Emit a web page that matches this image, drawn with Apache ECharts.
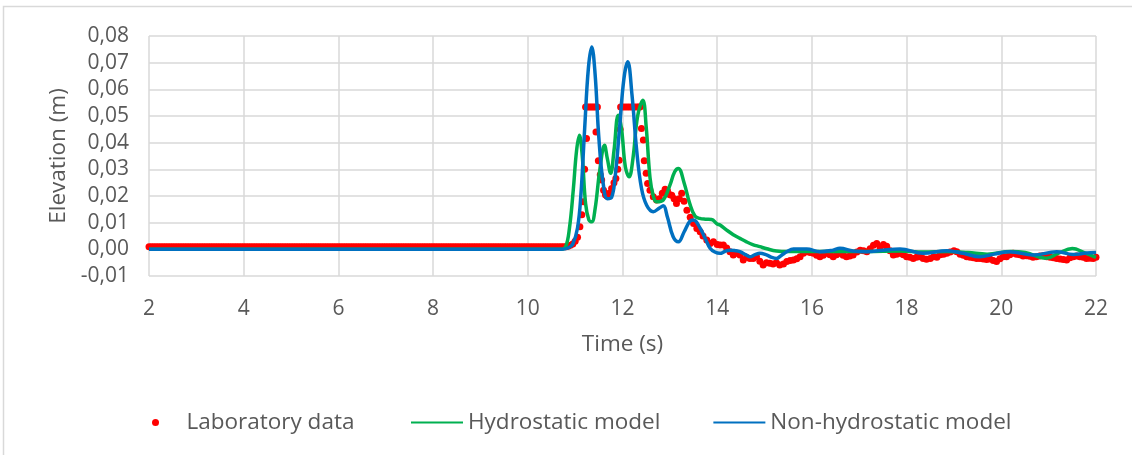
<!DOCTYPE html>
<html>
<head>
<meta charset="utf-8">
<script src="https://cdn.jsdelivr.net/npm/echarts@6/dist/echarts.min.js"></script>
<style>
  html, body { margin: 0; padding: 0; background: #ffffff; }
  #chart { width: 1132px; height: 455px; }
</style>
</head>
<body>
<div id="chart"></div>
<script>
// ---- Data ----
const seriesNames = ['Laboratory data', 'Hydrostatic model', 'Non-hydrostatic model'];
const xTicks = { min: 2, max: 22, interval: 2 };
const yTicks = { min: -0.01, max: 0.08, interval: 0.01 };

// Laboratory data: [time (s), elevation (m)]
const labPoints = [
  [2.0,0.001],[2.05,0.001],[2.1,0.001],[2.15,0.001],[2.2,0.001],[2.25,0.001],[2.3,0.001],[2.35,0.001],[2.4,0.001],[2.45,0.001],
  [2.5,0.001],[2.55,0.001],[2.6,0.001],[2.65,0.001],[2.7,0.001],[2.75,0.001],[2.8,0.001],[2.85,0.001],[2.9,0.001],[2.95,0.001],
  [3.0,0.001],[3.05,0.001],[3.1,0.001],[3.15,0.001],[3.2,0.001],[3.25,0.001],[3.3,0.001],[3.35,0.001],[3.4,0.001],[3.45,0.001],
  [3.5,0.001],[3.55,0.001],[3.6,0.001],[3.65,0.001],[3.7,0.001],[3.75,0.001],[3.8,0.001],[3.85,0.001],[3.9,0.001],[3.95,0.001],
  [4.0,0.001],[4.05,0.001],[4.1,0.001],[4.15,0.001],[4.2,0.001],[4.25,0.001],[4.3,0.001],[4.35,0.001],[4.4,0.001],[4.45,0.001],
  [4.5,0.001],[4.55,0.001],[4.6,0.001],[4.65,0.001],[4.7,0.001],[4.75,0.001],[4.8,0.001],[4.85,0.001],[4.9,0.001],[4.95,0.001],
  [5.0,0.001],[5.05,0.001],[5.1,0.001],[5.15,0.001],[5.2,0.001],[5.25,0.001],[5.3,0.001],[5.35,0.001],[5.4,0.001],[5.45,0.001],
  [5.5,0.001],[5.55,0.001],[5.6,0.001],[5.65,0.001],[5.7,0.001],[5.75,0.001],[5.8,0.001],[5.85,0.001],[5.9,0.001],[5.95,0.001],
  [6.0,0.001],[6.05,0.001],[6.1,0.001],[6.15,0.001],[6.2,0.001],[6.25,0.001],[6.3,0.001],[6.35,0.001],[6.4,0.001],[6.45,0.001],
  [6.5,0.001],[6.55,0.001],[6.6,0.001],[6.65,0.001],[6.7,0.001],[6.75,0.001],[6.8,0.001],[6.85,0.001],[6.9,0.001],[6.95,0.001],
  [7.0,0.001],[7.05,0.001],[7.1,0.001],[7.15,0.001],[7.2,0.001],[7.25,0.001],[7.3,0.001],[7.35,0.001],[7.4,0.001],[7.45,0.001],
  [7.5,0.001],[7.55,0.001],[7.6,0.001],[7.65,0.001],[7.7,0.001],[7.75,0.001],[7.8,0.001],[7.85,0.001],[7.9,0.001],[7.95,0.001],
  [8.0,0.001],[8.05,0.001],[8.1,0.001],[8.15,0.001],[8.2,0.001],[8.25,0.001],[8.3,0.001],[8.35,0.001],[8.4,0.001],[8.45,0.001],
  [8.5,0.001],[8.55,0.001],[8.6,0.001],[8.65,0.001],[8.7,0.001],[8.75,0.001],[8.8,0.001],[8.85,0.001],[8.9,0.001],[8.95,0.001],
  [9.0,0.001],[9.05,0.001],[9.1,0.001],[9.15,0.001],[9.2,0.001],[9.25,0.001],[9.3,0.001],[9.35,0.001],[9.4,0.001],[9.45,0.001],
  [9.5,0.001],[9.55,0.001],[9.6,0.001],[9.65,0.001],[9.7,0.001],[9.75,0.001],[9.8,0.001],[9.85,0.001],[9.9,0.001],[9.95,0.001],
  [10.0,0.001],[10.05,0.001],[10.1,0.001],[10.15,0.001],[10.2,0.001],[10.25,0.001],[10.3,0.001],[10.35,0.001],[10.4,0.001],[10.45,0.001],
  [10.5,0.001],[10.55,0.001],[10.6,0.001],[10.65,0.001],[10.7,0.001],[10.75,0.001],[10.8,0.001],
  [10.85,0.0012],[10.9,0.0015],[10.95,0.002],[11.0,0.003],[11.05,0.0045],[11.1,0.0085],[11.14,0.013],[11.17,0.0178],
  [11.2,0.03],[11.22,0.0534],[11.24,0.0416],[11.26,0.0534],[11.3,0.0534],[11.34,0.0534],[11.38,0.0534],[11.42,0.0534],
  [11.44,0.044],[11.47,0.0534],[11.49,0.0332],[11.53,0.028],[11.56,0.026],[11.6,0.0222],[11.64,0.0205],[11.67,0.02],
  [11.72,0.021],[11.77,0.0228],[11.82,0.025],[11.86,0.0266],[11.9,0.03],[11.93,0.0334],[11.95,0.045],[11.96,0.0534],
  [12.0,0.0534],[12.05,0.0534],[12.1,0.0534],[12.15,0.0534],[12.2,0.0534],[12.25,0.0534],[12.3,0.0534],[12.34,0.0534],
  [12.37,0.0534],[12.4,0.0453],[12.44,0.041],[12.46,0.0332],[12.5,0.0285],[12.53,0.0247],[12.58,0.0222],[12.65,0.0197],
  [12.72,0.0185],[12.78,0.019],[12.84,0.021],[12.9,0.0225],[12.95,0.022],[13.0,0.0205],[13.04,0.0203],[13.09,0.019],
  [13.14,0.0172],[13.2,0.019],[13.25,0.021],[13.3,0.018],[13.36,0.0147],[13.43,0.012],[13.5,0.0097],[13.57,0.0078],
  [13.64,0.0066],[13.7,0.005],[13.78,0.0035],[13.85,0.0022],[13.92,0.0028],[14.0,0.0018],[14.06,0.0016],[14.13,0.0016],
  [14.2,0.0005],[14.27,-0.0009],[14.34,-0.0021],[14.41,-0.0015],[14.48,-0.0021],[14.55,-0.004],[14.62,-0.003],[14.69,-0.0034],
  [14.76,-0.0034],[14.83,-0.0028],[14.9,-0.0045],[14.97,-0.0059],[15.04,-0.005],[15.11,-0.0052],[15.18,-0.0055],[15.25,-0.005],
  [15.32,-0.0059],[15.4,-0.0055],[15.47,-0.0046],[15.54,-0.0042],[15.61,-0.004],[15.68,-0.0035],[15.75,-0.0028],[15.82,-0.0015],
  [15.89,-0.0009],[15.96,-0.0012],[16.03,-0.0015],[16.1,-0.0022],[16.17,-0.0028],[16.24,-0.0022],[16.31,-0.0015],[16.38,-0.002],
  [16.45,-0.0028],[16.52,-0.002],[16.59,-0.0015],[16.66,-0.0022],[16.73,-0.0028],[16.8,-0.0025],[16.87,-0.0021],[16.95,-0.001],
  [17.02,-0.0003],[17.09,-0.0005],[17.16,-0.0009],[17.23,0.0002],[17.3,0.0015],[17.37,0.0022],[17.44,0.0005],[17.51,0.0018],
  [17.58,0.0012],[17.65,-0.0005],[17.72,-0.0021],[17.79,-0.0018],[17.86,-0.0015],[17.93,-0.002],[18.0,-0.0028],[18.07,-0.003],
  [18.14,-0.0034],[18.21,-0.003],[18.28,-0.0028],[18.35,-0.0034],[18.42,-0.0037],[18.5,-0.0034],[18.57,-0.0028],[18.64,-0.003],
  [18.71,-0.002],[18.78,-0.0018],[18.85,-0.0015],[18.92,-0.001],[19.0,-0.0005],[19.06,-0.0009],[19.13,-0.0018],[19.2,-0.0022],
  [19.27,-0.0028],[19.34,-0.003],[19.41,-0.0032],[19.48,-0.0034],[19.55,-0.0034],[19.62,-0.0036],[19.69,-0.0038],[19.76,-0.0036],
  [19.83,-0.0042],[19.9,-0.0046],[19.97,-0.0035],[20.04,-0.0028],[20.11,-0.0028],[20.18,-0.002],[20.25,-0.0015],[20.32,-0.0018],
  [20.39,-0.002],[20.46,-0.0025],[20.53,-0.0024],[20.6,-0.0026],[20.67,-0.003],[20.74,-0.0028],[20.81,-0.0025],[20.88,-0.0024],
  [20.96,-0.0028],[21.03,-0.003],[21.1,-0.0032],[21.17,-0.0034],[21.24,-0.0036],[21.31,-0.0038],[21.38,-0.004],[21.45,-0.0032],
  [21.52,-0.0028],[21.59,-0.0025],[21.66,-0.0028],[21.73,-0.003],[21.8,-0.0034],[21.87,-0.0033],[21.94,-0.0034],[22.0,-0.003]
];

// Hydrostatic model: [time (s), elevation (m)]
const hydroPoints = [
  [2.0,0],[10.7,0],[10.8,0.001],[10.88,0.008],[10.96,0.0222],[11.03,0.037],[11.09,0.0428],[11.15,0.035],
  [11.22,0.0172],[11.29,0.011],[11.35,0.0103],[11.42,0.015],[11.52,0.0297],[11.62,0.039],[11.68,0.034],[11.75,0.0285],
  [11.82,0.037],[11.91,0.0503],[11.98,0.045],[12.06,0.031],[12.14,0.0272],[12.22,0.034],[12.32,0.05],[12.43,0.0559],
  [12.5,0.046],[12.58,0.027],[12.65,0.02],[12.72,0.0178],[12.86,0.0185],[13.0,0.024],[13.1,0.029],[13.18,0.0303],
  [13.3,0.025],[13.42,0.0172],[13.53,0.0125],[13.63,0.0116],[13.75,0.0113],[13.88,0.0112],[14.0,0.0095],[14.06,0.0091],
  [14.2,0.0072],[14.34,0.0055],[14.48,0.0041],[14.62,0.0028],[14.75,0.0018],[14.9,0.001],[15.05,0.0002],[15.25,-0.0006],
  [15.5,-0.0008],[15.75,-0.0008],[16.45,-0.0008],[17.16,-0.0008],[17.86,-0.0006],[18.35,-0.001],[18.85,-0.0008],[19.3,-0.0012],
  [19.7,-0.0018],[20.2,-0.0008],[20.5,-0.0012],[20.95,-0.0033],[21.2,-0.0015],[21.5,0.0003],[21.75,-0.0012],[22.0,-0.003]
];

// Non-hydrostatic model: [time (s), elevation (m)]
const nonHydroPoints = [
  [2.0,0],[10.7,0],[10.85,0.0005],[10.95,0.002],[11.05,0.008],[11.12,0.02],[11.2,0.045],[11.28,0.068],
  [11.35,0.0759],[11.42,0.066],[11.5,0.042],[11.59,0.025],[11.68,0.019],[11.77,0.0195],[11.85,0.028],[11.94,0.046],
  [12.03,0.064],[12.11,0.0703],[12.2,0.058],[12.3,0.037],[12.4,0.023],[12.51,0.0165],[12.65,0.0141],[12.78,0.0155],
  [12.86,0.0163],[12.95,0.012],[13.07,0.0047],[13.18,0.0028],[13.3,0.0065],[13.42,0.0105],[13.5,0.011],[13.64,0.0079],
  [13.75,0.004],[13.85,0.0004],[13.95,-0.001],[14.06,-0.0015],[14.16,-0.0008],[14.27,-0.0003],[14.38,-0.0005],[14.48,-0.0009],
  [14.6,-0.002],[14.69,-0.0028],[14.8,-0.002],[14.9,-0.0015],[15.04,-0.0021],[15.15,-0.003],[15.25,-0.0034],[15.36,-0.0022],
  [15.47,-0.0009],[15.61,0.0001],[15.89,0.0001],[16.17,-0.0009],[16.45,-0.0003],[16.59,0.0004],[16.87,-0.0006],[17.16,-0.0009],
  [17.5,-0.0003],[17.86,0.0001],[18.35,-0.0015],[18.85,-0.0005],[19.2,-0.0015],[19.55,-0.0028],[19.85,-0.0018],[20.18,-0.0009],
  [20.68,-0.0021],[21.17,-0.0009],[21.52,-0.0019],[21.8,-0.0014],[22.0,-0.0012]
];

// ---- Chart ----
const FONT = "'Open Sans', sans-serif";
const TEXT = '#595959';
const GRIDC = '#d9d9d9';
const NAME_SIZE = 22.5;

const legendText = { fontSize: NAME_SIZE, color: TEXT, fontFamily: FONT };

const chart = echarts.init(document.getElementById('chart'), null, { renderer: 'canvas' });
chart.setOption({
  animation: false,
  backgroundColor: '#ffffff',
  textStyle: { fontFamily: FONT },
  graphic: [{
    type: 'rect',
    shape: { x: 3.5, y: 6.5, width: 1200, height: 600 },
    style: { fill: 'none', stroke: GRIDC, lineWidth: 1.5 },
    silent: true, z: -1
  }],
  grid: { left: 149, right: 36, top: 36, bottom: 179, containLabel: false },
  legend: [
    {
      left: 147, top: 406, padding: 5,
      itemWidth: 52, itemHeight: 7,
      textStyle: legendText,
      data: [{ name: seriesNames[0], icon: 'circle' }]
    },
    {
      left: 405, top: 406, padding: 5,
      itemWidth: 52, itemHeight: 7, itemGap: 52,
      textStyle: legendText,
      data: [
        { name: seriesNames[1], itemStyle: { opacity: 0 } },
        { name: seriesNames[2], itemStyle: { opacity: 0 } }
      ]
    }
  ],
  xAxis: {
    type: 'value',
    min: xTicks.min, max: xTicks.max, interval: xTicks.interval,
    name: 'Time (s)', nameLocation: 'middle', nameGap: 57,
    nameTextStyle: { fontSize: NAME_SIZE, color: TEXT, fontFamily: FONT },
    axisLine: { show: false }, axisTick: { show: false },
    axisLabel: { fontSize: 21, color: TEXT, margin: 23, fontFamily: FONT },
    splitLine: { show: true, lineStyle: { color: GRIDC, width: 1.5 } }
  },
  yAxis: {
    type: 'value',
    min: yTicks.min, max: yTicks.max, interval: yTicks.interval,
    name: 'Elevation (m)', nameLocation: 'middle', nameGap: 79,
    nameTextStyle: { fontSize: NAME_SIZE, color: TEXT, fontFamily: FONT },
    axisLine: { show: false }, axisTick: { show: false },
    axisLabel: {
      fontSize: 21, color: TEXT, margin: 20, fontFamily: FONT,
      formatter: v => v.toFixed(2).replace('.', ',')
    },
    splitLine: { show: true, lineStyle: { color: GRIDC, width: 1.5 } }
  },
  series: [
    {
      name: seriesNames[0], type: 'scatter',
      data: labPoints, symbol: 'circle', symbolSize: 7,
      itemStyle: { color: '#ff0000', opacity: 1 }
    },
    {
      name: seriesNames[1], type: 'line',
      data: hydroPoints, smooth: 0.4, symbol: 'none',
      lineStyle: { color: '#00b050', width: 3.5 }, itemStyle: { color: '#00b050' }
    },
    {
      name: seriesNames[2], type: 'line',
      data: nonHydroPoints, smooth: 0.4, symbol: 'none',
      lineStyle: { color: '#0070c0', width: 3.5 }, itemStyle: { color: '#0070c0' }
    }
  ]
});
</script>
</body>
</html>
